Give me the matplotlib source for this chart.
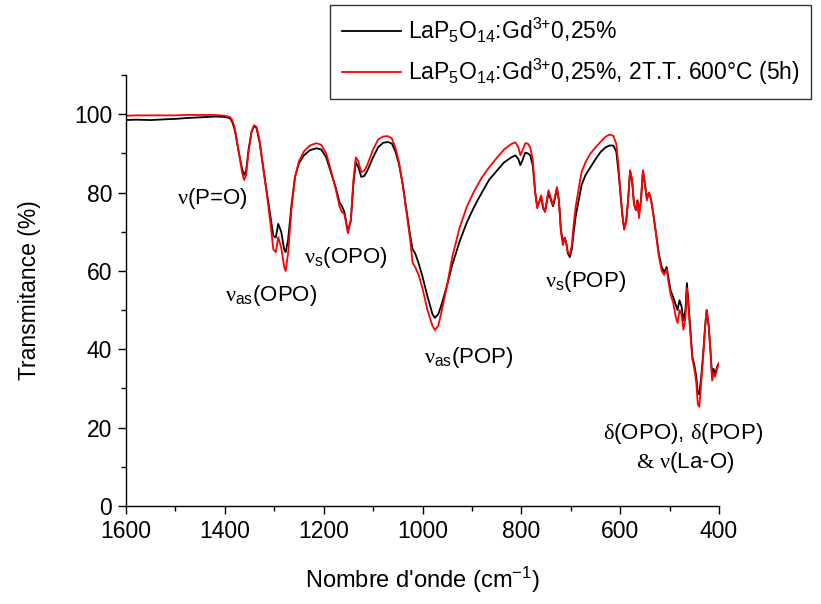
import matplotlib
matplotlib.use("Agg")
import matplotlib.pyplot as plt
from matplotlib.ticker import MultipleLocator

plt.rcParams['font.family'] = ['Liberation Sans', 'DejaVu Sans']
plt.rcParams['mathtext.fontset'] = 'custom'
plt.rcParams['mathtext.rm'] = 'Liberation Sans'
plt.rcParams['mathtext.it'] = 'Liberation Sans:italic'
plt.rcParams['mathtext.sf'] = 'Liberation Serif'

wavenumber = [1600, 1580, 1550, 1520, 1500, 1480, 1450, 1420, 1400, 1390, 1385, 1380, 1375, 1370,
              1365, 1361, 1357, 1352, 1346, 1341, 1336, 1330, 1322, 1315, 1308, 1302, 1297, 1292,
              1286, 1280, 1277, 1272, 1265, 1258, 1250, 1240, 1228, 1215, 1205, 1195, 1185, 1175,
              1168, 1163, 1158, 1151, 1145, 1140, 1135, 1130, 1124, 1118, 1112, 1100, 1090, 1080,
              1070, 1062, 1055, 1048, 1040, 1032, 1025, 1020, 1015, 1008, 1000, 990, 980, 975,
              968, 960, 950, 940, 925, 910, 895, 880, 865, 850, 835, 820, 812, 806, 802, 797, 792,
              787, 782, 777, 772, 768, 764, 760, 756, 752, 748, 745, 740, 736, 732, 728, 724, 720,
              716, 712, 709, 706, 702, 698, 694, 690, 684, 678, 670, 660, 650, 640, 630, 622, 614,
              608, 604, 600, 596, 592, 588, 584, 580, 576, 572, 568, 565, 562, 558, 554, 550, 546,
              542, 538, 533, 528, 522, 516, 511, 506, 502, 498, 493, 488, 484, 480, 476, 472, 468,
              465, 462, 458, 454, 450, 446, 443, 440, 436, 432, 428, 425, 421, 417, 414, 411, 408,
              404, 400]

t_untreated = [98.5, 98.6, 98.5, 98.7, 98.8, 99.0, 99.2, 99.4, 99.3, 99.0, 98.0, 96.0, 92.5, 89.0,
               86.0, 84.5, 85.5, 91.0, 95.5, 97.0, 96.5, 93.0, 86.0, 80.0, 74.0, 69.0, 68.5, 72.0,
               70.0, 65.5, 64.8, 68.0, 77.0, 84.0, 87.5, 89.5, 90.8, 91.3, 91.0, 89.0, 85.0, 81.0,
               77.5, 76.5, 75.0, 70.0, 73.0, 82.0, 87.8, 86.5, 84.0, 84.2, 85.5, 89.0, 91.5, 92.7,
               92.9, 92.5, 90.5, 87.5, 82.0, 75.0, 69.0, 65.5, 64.5, 62.0, 58.5, 53.5, 49.0, 48.0,
               49.0, 52.0, 56.5, 61.5, 67.5, 72.5, 76.5, 80.0, 83.3, 85.5, 87.7, 89.0, 89.5, 88.5,
               87.0, 88.5, 90.2, 90.0, 89.5, 87.0, 80.0, 76.5, 77.5, 79.0, 76.0, 75.2, 78.0, 80.0,
               78.0, 76.5, 78.5, 81.0, 78.0, 70.5, 67.5, 68.5, 67.0, 64.5, 63.5, 65.5, 70.0, 74.0,
               78.0, 82.0, 84.5, 86.5, 88.5, 90.3, 91.5, 92.0, 92.0, 90.5, 86.0, 80.5, 74.5, 70.8,
               72.5, 78.0, 85.5, 83.0, 77.0, 75.5, 78.0, 74.5, 78.0, 85.5, 82.0, 78.5, 80.0, 78.5,
               74.5, 70.0, 64.5, 61.0, 59.7, 61.0, 58.0, 55.0, 53.4, 51.5, 50.0, 52.5, 51.0, 47.4,
               50.0, 56.9, 52.0, 45.0, 38.0, 36.0, 33.0, 28.8, 28.5, 33.0, 39.0, 46.0, 50.0, 46.0,
               39.0, 33.0, 35.0, 33.5, 35.5, 36.5]

t_treated = [99.6, 99.7, 99.7, 99.7, 99.7, 99.8, 99.8, 99.8, 99.6, 99.3, 98.5, 96.5, 92.8, 89.0,
             85.0, 83.2, 84.5, 90.5, 95.5, 97.2, 96.8, 93.5, 86.0, 79.5, 72.5, 65.5, 64.8, 68.6,
             66.0, 61.0, 60.0, 64.5, 76.0, 84.0, 88.0, 90.5, 92.0, 92.6, 92.2, 90.0, 85.5, 80.5,
             76.5, 75.0, 74.5, 69.6, 73.0, 83.0, 89.0, 88.0, 85.2, 85.5, 87.0, 91.0, 93.5, 94.3,
             94.4, 93.8, 91.5, 88.0, 82.0, 74.5, 68.0, 62.0, 61.0, 59.0, 55.5, 50.0, 46.0, 44.9,
             46.0, 50.5, 56.5, 63.5, 71.0, 76.5, 80.5, 83.8, 86.5, 88.8, 91.0, 92.4, 92.8, 91.5,
             89.5, 91.0, 92.6, 92.5, 91.5, 88.5, 80.0, 76.0, 77.5, 79.3, 76.5, 75.0, 78.5, 80.6,
             78.5, 76.8, 79.0, 81.4, 78.0, 70.0, 66.6, 68.4, 67.0, 64.8, 64.2, 66.5, 72.0, 76.5,
             81.0, 85.3, 87.8, 90.0, 91.5, 92.9, 94.2, 94.8, 94.5, 92.5, 87.5, 81.0, 75.0, 70.5,
             72.5, 78.0, 85.7, 83.5, 77.0, 75.5, 78.0, 73.5, 78.0, 85.7, 82.5, 78.0, 80.0, 78.5,
             74.5, 70.0, 64.0, 60.0, 59.0, 60.5, 57.0, 54.0, 52.0, 48.5, 46.7, 50.0, 49.0, 45.0,
             48.0, 55.6, 51.0, 44.0, 37.5, 35.0, 31.5, 26.0, 25.3, 31.5, 38.5, 46.0, 50.0, 46.0,
             39.0, 32.0, 34.0, 33.0, 35.0, 36.5]

labels = [r"LaP$\mathregular{_5}$O$\mathregular{_{14}}$:Gd$\mathregular{^{3{+}}}$0,25%",
          r"LaP$\mathregular{_5}$O$\mathregular{_{14}}$:Gd$\mathregular{^{3{+}}}$0,25%, 2T.T. 600°C (5h)"]

annotations = [
    (r"$\mathsf{ν}$(P=O)", 1426, 78.6),
    (r"$\mathsf{ν}\mathregular{_{as}}$(OPO)", 1307, 53.6),
    (r"$\mathsf{ν}\mathregular{_{s}}$(OPO)", 1155, 63.3),
    (r"$\mathsf{ν}\mathregular{_{as}}$(POP)", 906, 37.8),
    (r"$\mathsf{ν}\mathregular{_{s}}$(POP)", 671, 57.4),
    (r"$\mathsf{δ}$(OPO), $\mathsf{δ}$(POP)", 473, 18.6),
    (r"$\mathsf{&}$ $\mathsf{ν}$(La-O)", 469, 11.2),
]

fig = plt.figure(figsize=(8.21, 6.04), dpi=100)
ax = fig.add_axes([0.1535, 0.1623, 0.7223, 0.7135])

l1, = ax.plot(wavenumber, t_untreated, color='black', lw=1.3)
l2, = ax.plot(wavenumber, t_treated, color='#ff0000', lw=1.3)

ax.set_xlim(1600, 400)
ax.set_ylim(0, 110)
ax.xaxis.set_major_locator(MultipleLocator(200))
ax.xaxis.set_minor_locator(MultipleLocator(100))
ax.yaxis.set_major_locator(MultipleLocator(20))
ax.yaxis.set_minor_locator(MultipleLocator(10))
ax.tick_params(which='major', direction='out', length=6, width=1.0, labelsize=16.5,
               colors='black', pad=4)
ax.tick_params(which='minor', direction='out', length=3.5, width=1.0)
for s in ['top', 'right']:
    ax.spines[s].set_visible(False)
for s in ['left', 'bottom']:
    ax.spines[s].set_linewidth(1.0)

ax.set_xlabel(r"Nombre d'onde (cm$^{\mathregular{-1}}$)", fontsize=17, labelpad=16)
ax.set_ylabel("Transmitance (%)", fontsize=16.5, labelpad=24)

for txt, x, y in annotations:
    ax.text(x, y, txt, fontsize=16, ha='center', va='center')

leg = fig.legend([l1, l2], labels, loc='upper left', bbox_to_anchor=(0.402, 0.992),
                 fontsize=16.5, frameon=True, fancybox=False, borderaxespad=0,
                 handlelength=2.6, handletextpad=0.3, labelspacing=0.5,
                 borderpad=0.5)
leg.get_frame().set_edgecolor('black')
leg.get_frame().set_linewidth(1.0)

fig.savefig("out.png", dpi=100)
